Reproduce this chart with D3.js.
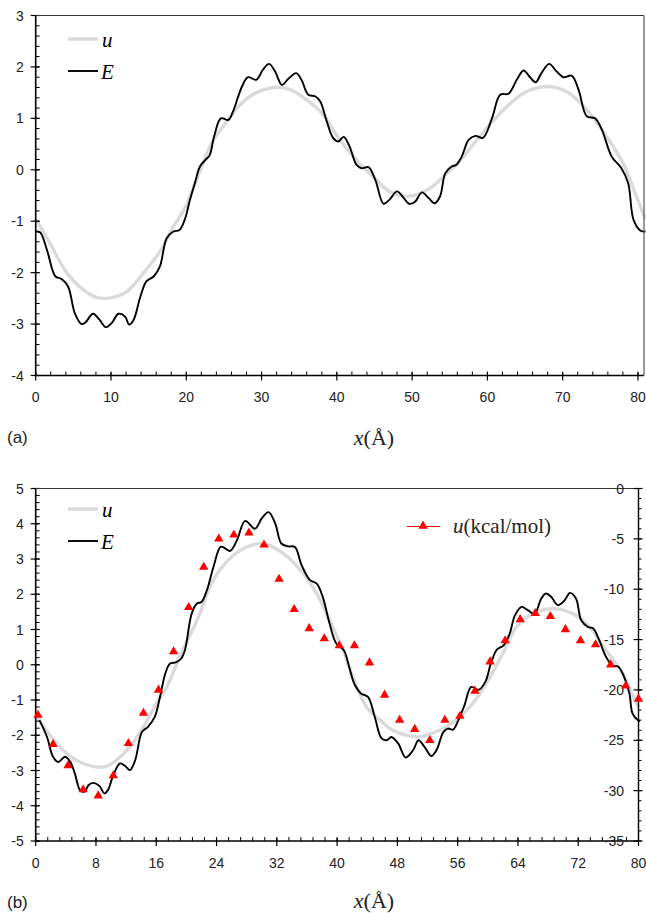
<!DOCTYPE html>
<html><head><meta charset="utf-8">
<script src="https://cdn.jsdelivr.net/npm/d3@7"></script>
<style>body{margin:0;background:#fff}svg{display:block}</style>
</head><body>
<script>
// ---------- Panel (a) data ----------
const aEx=[0,0.6,1.5,2.6,3.4,4.3,5.2,6.1,6.6,7.6,8.5,9.3,10.1,11.0,11.9,12.4,13.0,13.9,14.7,15.7,16.5,17.4,18.3,19.1,19.8,20.5,21.2,21.8,22.6,23.1,23.7,24.6,25.6,26.2,27.4,28.2,29.3,30.2,31.0,31.8,32.7,33.5,34.6,35.3,36.2,37.1,37.8,38.6,39.5,40.2,40.9,41.7,42.6,43.3,44.2,45.1,46.2,47.0,48.0,48.9,49.6,50.4,51.3,52.2,53.0,53.7,54.4,55.2,55.9,56.6,57.5,58.4,59.4,60.6,61.7,62.8,63.9,64.8,65.6,66.4,67.1,68.2,69.2,70.1,71.2,72.1,73.2,74.3,75.2,76.5,77.8,78.7,79.4,80.3,81];
const aE=[-1.2,-1.22,-1.56,-2.07,-2.12,-2.27,-2.79,-3.0,-2.97,-2.80,-2.92,-3.06,-2.98,-2.80,-2.86,-3.01,-2.92,-2.47,-2.17,-2.07,-1.88,-1.33,-1.2,-1.17,-0.97,-0.58,-0.23,0.06,0.2,0.28,0.65,1.0,0.97,1.13,1.62,1.80,1.75,1.95,2.06,1.91,1.65,1.76,1.88,1.75,1.46,1.43,1.33,0.97,0.62,0.55,0.64,0.45,0.10,0.03,0.05,-0.19,-0.66,-0.58,-0.42,-0.55,-0.66,-0.62,-0.44,-0.55,-0.65,-0.52,-0.07,0.06,0.10,0.26,0.58,0.66,0.62,1.0,1.46,1.48,1.75,1.93,1.81,1.70,1.86,2.06,1.91,1.80,1.83,1.56,1.04,1.0,0.78,0.26,0.03,-0.26,-0.97,-1.18,-1.2];
const aUx=[0,1.9,4.1,6.3,8.1,9.3,10.3,12.1,14.3,16.5,18.3,19.8,21.8,23.6,25.4,27.1,29.3,31.8,33.8,36.0,38.2,40.4,42.6,44.8,47.0,49.7,52.4,54.6,56.5,58.6,61.7,64.8,67.9,70.5,73.2,75.8,78.0,79.8,81];
const aU=[-0.95,-1.43,-2.0,-2.33,-2.48,-2.5,-2.48,-2.37,-2.01,-1.59,-1.10,-0.75,-0.03,0.58,0.94,1.26,1.50,1.60,1.56,1.36,1.07,0.58,0.19,-0.13,-0.42,-0.51,-0.36,-0.07,0.20,0.58,1.10,1.49,1.62,1.52,1.17,0.65,0.13,-0.52,-0.97];

// ---------- Panel (b) data ----------
const bEx=[0.5,1.5,2.3,3.0,3.9,4.6,5.2,5.9,6.5,7.0,7.6,8.5,9.1,9.6,10.3,11.2,11.9,12.5,13.2,14.1,14.9,15.8,16.5,17.2,17.8,18.6,19.3,19.8,20.7,21.4,22.0,22.7,23.6,24.6,25.8,26.7,27.8,29.1,30.0,30.9,31.8,32.6,33.5,34.4,35.3,36.4,37.3,38.1,39.0,39.9,40.9,41.6,42.3,43.2,44.1,45.0,45.9,46.6,47.2,48.1,49.1,50.1,50.8,51.6,52.5,53.2,54.1,54.7,55.4,56.0,56.9,57.8,58.8,59.7,60.4,61.2,62.1,62.9,63.6,64.5,65.3,66.2,67.1,67.7,68.4,69.3,70.2,70.9,71.7,72.4,73.3,74.0,74.8,75.7,76.6,77.3,78.1,78.8,79.2,79.9,80.2];
const bE=[-1.57,-2.05,-2.61,-2.76,-2.61,-2.76,-3.09,-3.56,-3.6,-3.42,-3.35,-3.45,-3.65,-3.55,-3.13,-2.80,-2.88,-2.99,-2.71,-1.91,-1.76,-1.48,-0.91,-0.25,0.03,0.07,0.17,0.41,1.45,1.74,1.78,2.1,2.78,3.35,3.23,3.53,4.08,3.86,4.15,4.33,4.0,3.44,3.36,3.34,2.82,2.40,2.30,1.92,1.17,0.60,0.41,-0.06,-0.55,-0.82,-0.91,-1.48,-2.09,-2.14,-2.05,-2.23,-2.63,-2.42,-2.14,-2.33,-2.59,-2.42,-1.91,-1.81,-1.84,-1.62,-1.15,-0.63,-0.71,-0.47,0.03,0.43,0.55,0.88,1.40,1.64,1.55,1.45,1.88,2.02,1.93,1.69,1.83,2.04,1.88,1.26,1.07,1.03,0.69,0.22,-0.03,-0.05,-0.35,-0.82,-1.38,-1.57,-1.6];
const bUx=[0,1.9,4.1,6.3,8.1,9.4,10.7,12.5,14.3,16.0,17.4,19.1,21.8,23.1,24.4,26.2,28.0,30.2,31.9,33.7,35.5,37.3,39.0,40.8,42.1,43.9,45.7,47.4,49.2,50.7,53.6,55.8,58.0,59.8,62.0,63.8,66.0,68.6,71.3,73.5,75.7,77.9,79.3,80];
const bU=[-1.43,-2.0,-2.52,-2.80,-2.90,-2.88,-2.71,-2.33,-1.76,-1.10,-0.63,0.22,1.45,2.21,2.68,3.10,3.34,3.44,3.29,3.01,2.59,2.02,1.26,0.41,-0.35,-1.20,-1.57,-1.86,-2.0,-2.05,-1.86,-1.57,-1.10,-0.53,0.32,1.07,1.45,1.59,1.45,1.07,0.41,-0.25,-0.91,-1.2];
// u (kcal/mol), right axis
const triX=[0.3,2.3,4.3,6.3,8.3,10.3,12.3,14.3,16.3,18.3,20.3,22.3,24.3,26.3,28.3,30.3,32.3,34.3,36.3,38.3,40.3,42.3,44.3,46.3,48.3,50.3,52.3,54.3,56.3,58.3,60.3,62.3,64.3,66.3,68.3,70.3,72.3,74.3,76.3,78.3,80];
const triU=[-22.5,-25.4,-27.5,-29.9,-30.5,-28.5,-25.3,-22.3,-20.0,-16.2,-11.8,-7.8,-5.0,-4.6,-4.4,-5.6,-9.0,-12.0,-13.9,-14.9,-15.6,-15.6,-17.3,-20.5,-23.0,-23.9,-25.0,-23.0,-22.6,-20.1,-17.2,-15.1,-13.0,-12.4,-12.7,-14.0,-15.1,-15.5,-17.5,-19.6,-20.9];

// ---------- tick labels ----------
const aXTicks=[0,10,20,30,40,50,60,70,80];
const aYTicks=[-4,-3,-2,-1,0,1,2,3];
const bXTicks=[0,8,16,24,32,40,48,56,64,72,80];
const bYTicks=[-5,-4,-3,-2,-1,0,1,2,3,4,5];
const bRTicks=[-35,-30,-25,-20,-15,-10,-5,0];

const svg=d3.select("body").append("svg").attr("width",646).attr("height",913)
  .style("font-family","'Liberation Sans', Arial, sans-serif");

const serif="'Liberation Serif','Times New Roman',serif";
const zip=(xs,ys)=>xs.map((v,i)=>[v,ys[i]]);

function drawCurves(x,y,Ex,Ey,Ux,Uy){
  const line=d3.line().x(d=>x(d[0])).y(d=>y(d[1])).curve(d3.curveCatmullRom.alpha(0.5));
  svg.append("path").attr("d",line(zip(Ux,Uy))).attr("fill","none")
    .attr("stroke","#dadada").attr("stroke-width",3.4).attr("stroke-linejoin","round");
  svg.append("path").attr("d",line(zip(Ex,Ey))).attr("fill","none")
    .attr("stroke","#000").attr("stroke-width",1.9).attr("stroke-linejoin","round");
}

function drawAxes(x,y,xTicks,xMinor,yTicks,yMinor,labelYBase){
  const [x0,x1]=x.range(), [y0,y1]=y.range();
  const g=svg.append("g");
  // minor ticks
  const xd=x.domain(), yd=y.domain();
  for(let v=xd[0]; v<=xd[1]+1e-6; v+=xMinor){
    g.append("line").attr("x1",x(v)).attr("x2",x(v)).attr("y1",y0).attr("y2",y0-4).attr("stroke","#000").attr("stroke-width",1);
  }
  for(let v=yd[0]; v<=yd[1]+1e-6; v+=yMinor){
    g.append("line").attr("x1",x0).attr("x2",x0+4).attr("y1",y(v)).attr("y2",y(v)).attr("stroke","#000").attr("stroke-width",1);
  }
  xTicks.forEach(t=>{
    g.append("line").attr("x1",x(t)).attr("x2",x(t)).attr("y1",y0-3).attr("y2",y0+5).attr("stroke","#000").attr("stroke-width",1.2);
    g.append("text").attr("x",x(t)).attr("y",labelYBase).attr("text-anchor","middle")
      .attr("font-size",14).attr("fill","#222").text(t);
  });
  yTicks.forEach(t=>{
    g.append("line").attr("x1",x0-5).attr("x2",x0+4).attr("y1",y(t)).attr("y2",y(t)).attr("stroke","#000").attr("stroke-width",1.2);
    g.append("text").attr("x",x0-12).attr("y",y(t)+5).attr("text-anchor","end")
      .attr("font-size",14).attr("fill","#222").text(t);
  });
  g.append("line").attr("x1",x0).attr("x2",x1).attr("y1",y0).attr("y2",y0).attr("stroke","#000").attr("stroke-width",1.6);
  g.append("line").attr("x1",x0).attr("x2",x0).attr("y1",y0).attr("y2",y1).attr("stroke","#000").attr("stroke-width",1.6);
  g.append("line").attr("x1",x0).attr("x2",x1).attr("y1",y1).attr("y2",y1).attr("stroke","#333").attr("stroke-width",1.2);
}

function legend(x0,yU,yE){
  svg.append("line").attr("x1",x0).attr("x2",x0+30).attr("y1",yU).attr("y2",yU).attr("stroke","#dadada").attr("stroke-width",3.4);
  svg.append("line").attr("x1",x0).attr("x2",x0+30).attr("y1",yE).attr("y2",yE).attr("stroke","#000").attr("stroke-width",1.9);
  svg.append("text").attr("x",x0+34).attr("y",yU+8).attr("font-family",serif).attr("font-style","italic").attr("font-size",21).text("u");
  svg.append("text").attr("x",x0+33).attr("y",yE+8).attr("font-family",serif).attr("font-style","italic").attr("font-size",21).text("E");
}

function xTitle(cx,base){
  const t=svg.append("text").attr("x",cx).attr("y",base).attr("text-anchor","middle")
    .attr("font-family",serif).attr("font-size",22).attr("fill","#222");
  t.append("tspan").attr("font-style","italic").text("x");
  t.append("tspan").text("(Å)");
}

// ===== Panel (a) =====
const xa=d3.scaleLinear().domain([0,80.8]).range([35.7,644]);
const ya=d3.scaleLinear().domain([-4,3]).range([375.5,15.5]);
drawCurves(xa,ya,aEx,aE,aUx,aU);
drawAxes(xa,ya,aXTicks,2,aYTicks,0.2,402);
svg.append("line").attr("x1",644).attr("x2",644).attr("y1",15.5).attr("y2",375.5).attr("stroke","#555").attr("stroke-width",1.2);
legend(68,39,71);
xTitle(374,445);
svg.append("text").attr("x",7).attr("y",443).attr("font-size",17).attr("fill","#222").text("(a)");

// ===== Panel (b) =====
const xb=d3.scaleLinear().domain([0,80]).range([35.7,638.5]);
const yb=d3.scaleLinear().domain([-5,5]).range([841,488.5]);
const yr=d3.scaleLinear().domain([-35,0]).range([841,488.5]);
drawCurves(xb,yb,bEx,bE,bUx,bU);
drawAxes(xb,yb,bXTicks,1.6,bYTicks,0.2,868);
// right axis
const gr=svg.append("g");
for(let v=-35; v<=0.001; v+=1){
  gr.append("line").attr("x1",638.5).attr("x2",641.5).attr("y1",yr(v)).attr("y2",yr(v)).attr("stroke","#000").attr("stroke-width",1);
}
bRTicks.forEach(t=>{
  gr.append("line").attr("x1",633.5).attr("x2",642.5).attr("y1",yr(t)).attr("y2",yr(t)).attr("stroke","#000").attr("stroke-width",1.2);
  gr.append("text").attr("x",624).attr("y",yr(t)+5).attr("text-anchor","end").attr("font-size",14).attr("fill","#222").text(t);
});
gr.append("line").attr("x1",638.5).attr("x2",638.5).attr("y1",488.5).attr("y2",841).attr("stroke","#000").attr("stroke-width",1.4);
// triangles
const tri=d3.symbol().type(d3.symbolTriangle).size(38);
svg.append("g").selectAll("path").data(zip(triX,triU)).join("path")
  .attr("d",tri).attr("transform",d=>`translate(${xb(d[0])},${yr(d[1])})`).attr("fill","#ff0000");
legend(68,509,541);
// u(kcal/mol) legend
svg.append("line").attr("x1",407).attr("x2",440).attr("y1",526.5).attr("y2",526.5).attr("stroke","#ff0000").attr("stroke-width",1.2);
svg.append("path").attr("d",tri).attr("transform","translate(423,526)").attr("fill","#ff0000");
const lt=svg.append("text").attr("x",453).attr("y",533).attr("font-family",serif).attr("font-size",21).attr("fill","#222");
lt.append("tspan").attr("font-style","italic").text("u");
lt.append("tspan").text("(kcal/mol)");
xTitle(374,908);
svg.append("text").attr("x",7).attr("y",908).attr("font-size",17).attr("fill","#222").text("(b)");
</script>
</body></html>
